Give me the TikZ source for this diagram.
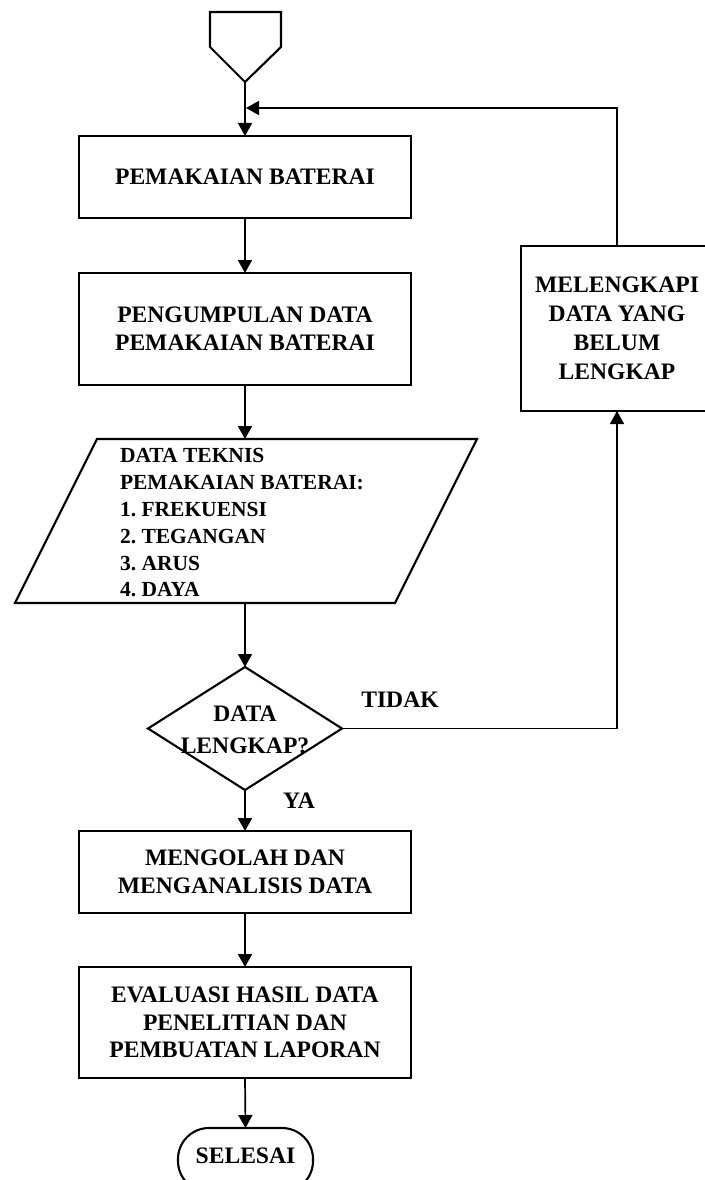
\documentclass[tikz,border=0pt]{standalone}
\usepackage{fontspec}
\setmainfont{Liberation Serif}
\usetikzlibrary{shapes.geometric,arrows.meta}
\frenchspacing
\begin{document}
\begin{tikzpicture}[x=1pt,y=-1pt,
  every node/.style={font=\bfseries\fontsize{23.6}{27}\selectfont, inner sep=0pt, outer sep=0pt},
  procbox/.style={draw, line width=2.1pt, minimum width=332pt, align=center},
  conn/.style={line width=1.7pt},
  arr/.style={conn, -{Triangle[length=13pt,width=14pt]}}]
\useasboundingbox (0,0) rectangle (704,1180);
\fill[white] (0,0) rectangle (704,1180);

% off-page connector at the top
\draw[line width=2.1pt, line join=miter] (210,12) -- (281,12) -- (281,47) -- (245,82) -- (210,47) -- cycle;
\coordinate (start) at (245,82);
\coordinate (join) at (245,108);

% process boxes
\node[procbox, minimum height=82pt] (b1) at (245,177) {PEMAKAIAN BATERAI};
\node[procbox, minimum height=112pt, font=\bfseries\fontsize{23.6}{28}\selectfont] (b2) at (245,329) {PENGUMPULAN DATA\\PEMAKAIAN BATERAI};

% data (parallelogram)
\coordinate (pTL) at (97,439);
\coordinate (pTR) at (477,439);
\coordinate (pBR) at (395,603);
\coordinate (pBL) at (15,603);
\coordinate (pN) at (245,439);
\coordinate (pS) at (245,603);
\draw[line width=2.1pt, line join=miter] (pTL) -- (pTR) -- (pBR) -- (pBL) -- cycle;
\node[anchor=west, align=left, font=\bfseries\fontsize{21.5}{26.8}\selectfont] (para) at (120,523)
  {DATA TEKNIS\\PEMAKAIAN BATERAI:\\1. FREKUENSI\\2. TEGANGAN\\3. ARUS\\4. DAYA};

% decision
\node[draw, diamond, line width=2.1pt, minimum width=194pt, minimum height=123pt, aspect=1.58] (dec) at (245,728.5) {};
\node[align=center, font=\bfseries\fontsize{23.6}{32}\selectfont] (dectext) at (245,730) {DATA\\LENGKAP?};

% completing data box (right)
\node[procbox, minimum width=192pt, minimum height=165pt, font=\bfseries\fontsize{23.6}{29}\selectfont] (fix) at (617,328.5) {MELENGKAPI\\DATA YANG\\BELUM\\LENGKAP};

\node[procbox, minimum height=82pt, font=\bfseries\fontsize{23.6}{28}\selectfont] (b3) at (245,872) {MENGOLAH DAN\\MENGANALISIS DATA};
\node[procbox, minimum height=111pt, font=\bfseries\fontsize{23.6}{27.5}\selectfont] (b4) at (245,1022.5) {EVALUASI HASIL DATA\\PENELITIAN DAN\\PEMBUATAN LAPORAN};

% terminal
\node[draw, line width=2.1pt, rounded corners=31pt, minimum width=135pt, minimum height=64pt] (end) at (245.5,1160) {};
\node (endtext) at (245.5,1156) {SELESAI};

% labels
\node (tidak) at (400,700) {TIDAK};
\node (ya) at (299,801) {YA};

% connectors
\draw[arr] (start) -- (b1.north);
\draw[arr] (b1) -- (b2);
\draw[arr] (b2.south) -- (pN);
\draw[arr] (pS) -- (dec.north);
\draw[arr] (dec.south) -- (b3.north);
\draw[arr] (b3) -- (b4);
\draw[arr] (b4.south) -- (end.north);
\draw[arr] (dec.east) -| (fix.south);
\draw[arr] (fix.north) |- ([xshift=1pt]join);
\end{tikzpicture}
\end{document}
